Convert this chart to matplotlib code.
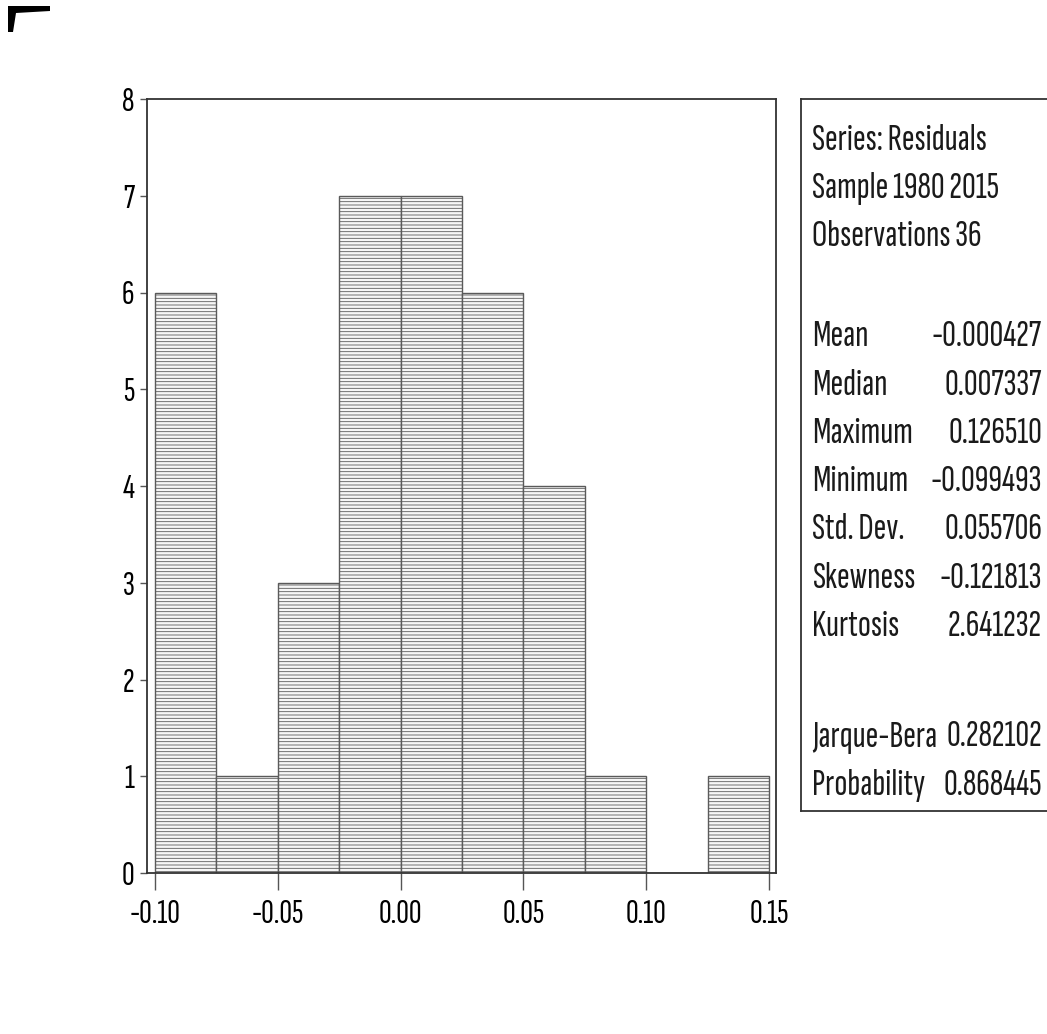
import numpy as np
import matplotlib.pyplot as plt
from matplotlib import font_manager
from matplotlib.font_manager import FontProperties
from matplotlib.textpath import TextPath
from matplotlib.patches import Polygon

# Histogram of residuals (bin edges and counts)
bin_edges = [-0.100, -0.075, -0.050, -0.025, 0.000, 0.025, 0.050, 0.075, 0.100, 0.125, 0.150]
counts = [6, 1, 3, 7, 7, 6, 4, 1, 0, 1]
x_ticks = [-0.10, -0.05, 0.00, 0.05, 0.10, 0.15]
x_tick_labels = ["-0.10", "-0.05", "0.00", "0.05", "0.10", "0.15"]
y_ticks = [0, 1, 2, 3, 4, 5, 6, 7, 8]

header_lines = ["Series: Residuals", "Sample 1980 2015", "Observations 36"]
stat_names = ["Mean", "Median", "Maximum", "Minimum", "Std. Dev.", "Skewness", "Kurtosis"]
stat_values = ["-0.000427", "0.007337", "0.126510", "-0.099493", "0.055706", "-0.121813", "2.641232"]
test_names = ["Jarque-Bera", "Probability"]
test_values = ["0.282102", "0.868445"]

# the scan uses a very condensed sans: pick the installed one whose
# width / cap-height ratio for "Kurtosis" is closest to the picture (~2.96)
names = {f.name for f in font_manager.fontManager.ttflist}
candidates = ["Sofia Sans Extra Condensed", "Saira Extra Condensed",
              "Fira Sans Extra Condensed", "Encode Sans Compressed",
              "Pathway Gothic One", "Barlow Condensed", "Asap Condensed",
              "Roboto Condensed", "Archivo Narrow"]
best, best_err, cap_frac = "DejaVu Sans", 1e9, 0.73
for fam in candidates:
    if fam not in names:
        continue
    fp = FontProperties(family=fam, size=100)
    w = TextPath((0, 0), "Kurtosis", prop=fp).get_extents().width
    h = TextPath((0, 0), "K", prop=fp).get_extents().height
    err = abs(w / h - 2.96)
    if err < best_err:
        best, best_err, cap_frac = fam, err, h / 100
plt.rcParams["font.family"] = [best, "DejaVu Sans"]
plt.rcParams["hatch.color"] = "#d8d8d8"
plt.rcParams["hatch.linewidth"] = 0.6


def size_for_cap(px):
    return px * 0.72 / cap_frac


W, H = 1047, 1034
fig = plt.figure(figsize=(W / 100, H / 100), dpi=100)


def fx(px):
    return px / W


def fy(py):
    return 1 - py / H


# dark corner left by the scanner
fig.patches.append(Polygon([(fx(8), fy(32)), (fx(8), fy(6)), (fx(50), fy(6)),
                            (fx(50), fy(11)), (fx(16), fy(13)), (fx(13), fy(32))],
                           closed=True, transform=fig.transFigure,
                           facecolor="black", edgecolor="none"))

ax = fig.add_axes([fx(147), fy(873), fx(776) - fx(147), fy(99) - fy(873)])
lefts = np.array(bin_edges[:-1])
widths = np.diff(bin_edges)
ax.bar(lefts, counts, width=widths, align="edge", facecolor="#f6f6f6",
       edgecolor="#5a5a5a", linewidth=1.0, hatch="-----")
ax.set_xlim(-0.1033, 0.1529)
ax.set_ylim(0, 8)
ax.set_xticks(x_ticks)
ax.set_xticklabels(x_tick_labels)
ax.set_yticks(y_ticks)
tick_size = size_for_cap(23)
ax.tick_params(axis="x", direction="out", length=12, width=1, color="#555555",
               labelsize=tick_size, pad=7)
ax.tick_params(axis="y", direction="out", length=5, width=1, color="#555555",
               labelsize=tick_size, pad=4)
for s in ax.spines.values():
    s.set_color("#333333")
    s.set_linewidth(1.3)

# statistics box
box = fig.add_axes([fx(801), fy(811), 1.02 - fx(801), fy(99) - fy(811)])
box.set_xticks([])
box.set_yticks([])
for s in box.spines.values():
    s.set_color("#333333")
    s.set_linewidth(1.3)

label_x = fx(812)
value_x = fx(1042)
ts = size_for_cap(25)
step = 48.2
y = 140
for line in header_lines:
    fig.text(label_x, fy(y), line, fontsize=ts, va="center", ha="left", color="#1a1a1a")
    y += step
y = 337
for name, val in zip(stat_names, stat_values):
    fig.text(label_x, fy(y), name, fontsize=ts, va="center", ha="left", color="#1a1a1a")
    fig.text(value_x, fy(y), val, fontsize=ts, va="center", ha="right", color="#1a1a1a")
    y += step
y = 737
for name, val in zip(test_names, test_values):
    fig.text(label_x, fy(y), name, fontsize=ts, va="center", ha="left", color="#1a1a1a")
    fig.text(value_x, fy(y), val, fontsize=ts, va="center", ha="right", color="#1a1a1a")
    y += step

fig.savefig("out.png", dpi=100)
